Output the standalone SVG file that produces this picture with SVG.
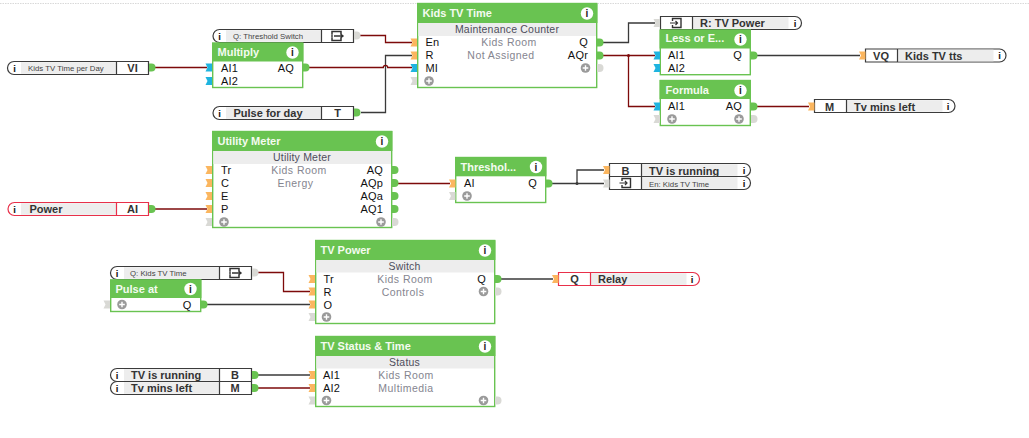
<svg xmlns="http://www.w3.org/2000/svg" width="1029" height="438" viewBox="0 0 1029 438">
<style>
text{font-family:"Liberation Sans",Arial,sans-serif;font-size:11px;fill:#111;letter-spacing:.2px}
.t{font-weight:bold;fill:#f4fbf0;font-size:11px;letter-spacing:0}
.s{fill:#4d4d5c;text-anchor:middle;font-size:10.5px}
.g{fill:#85858f;text-anchor:middle;font-size:10.5px;letter-spacing:.45px}
.r{text-anchor:end}
.box{fill:#fff;stroke:#69c351;stroke-width:1.4}
.hd{fill:#69c351}
.gb{fill:#ededed}
.ref{fill:#fff;stroke:#3b3b3b;stroke-width:1.2}
.red .ref{stroke:#e8304a}
.fl{fill:#ededed}
.dv{stroke:#3b3b3b;stroke-width:1.2;fill:none}
.red .dv{stroke:#e8304a}
.rl{font-weight:bold;fill:#333;font-size:11px;letter-spacing:0}
.rs{fill:#444;font-size:7.8px;letter-spacing:0}
.rc{font-weight:bold;fill:#333;text-anchor:middle;font-size:11px;letter-spacing:0}
.w{fill:none;stroke-width:1.3}
.d{stroke:#3a3a3a}
.m{stroke:#7d0a0a}
.ii{font-weight:bold;font-size:10px;text-anchor:middle;fill:#222;letter-spacing:0}
.i2{font-weight:bold;font-size:9.5px;text-anchor:middle;fill:#111;letter-spacing:0}
</style>
<defs>
<path id="po" d="M-6.500-4H0V4H-6.500L-4.500 0Z" fill="#fbb65f"/>
<path id="pc" d="M-6.500-4H0V4H-6.500L-4.500 0Z" fill="#1eb4df"/>
<path id="pe" d="M-6.500-4H0V4H-6.500L-4.500 0Z" fill="#d9d9d5"/>
<path id="qg" d="M0-4H2.500a4 4 0 0 1 0 8H0Z" fill="#69c351"/>
<path id="qe" d="M0-4H2.500a4 4 0 0 1 0 8H0Z" fill="#d9d9d5"/>
<g id="pl"><circle r="4.800" fill="#9a9a9a"/><path d="M-2.800 0H2.800M0-2.800V2.800" stroke="#fff" stroke-width="1.400"/></g>
<circle id="hi" r="6.200" fill="#fff"/>
<g id="ico"><path d="M-5-1.500V-4.500H4V-2M4 2V4.500H-5V1.500" fill="none" stroke="#333" stroke-width="1.500"/><path d="M-5-1.500V1.500M-3 0H6M3.500-2L6 0L3.500 2" fill="none" stroke="#333" stroke-width="1.400"/></g>
<g id="ici"><path d="M-3.500-2V-4.500H5V4.500H-3.500V2" fill="none" stroke="#333" stroke-width="1.400"/><path d="M-6 0H1.500M-0.500-2L1.500 0L-0.500 2" fill="none" stroke="#333" stroke-width="1.200"/></g>
</defs>
<path d="M0 3.500H1029" stroke="#d9d9d9" stroke-dasharray="1.500 1"/>
<g id="connectors">
<path class="w m" d="M155 67.500H207"/>
<path class="w m" d="M360 35.500H385.500V42.500H412"/>
<path class="w d" d="M361 112.500H385.500V55.500H412"/>
<path class="w m" d="M308 67.500H383.300a2.200 2.200 0 0 1 4.400 0H412"/>
<path class="w d" d="M603 42.500H628.500V23H655"/>
<path class="w m" d="M603 55.500H655M628.500 55.500V106.500H655"/>
<circle cx="628.500" cy="55.500" r="1.500" fill="#7d0a0a"/>
<path class="w d" d="M757 55.500H860"/>
<path class="w m" d="M757 106.500H809"/>
<path class="w m" d="M155 209H207"/>
<path class="w m" d="M397 183.500H450"/>
<path class="w d" d="M552 183.500H604M577 183.500V170H604"/>
<circle cx="577" cy="183.500" r="1.500" fill="#3a3a3a"/>
<path class="w m" d="M258 272.500H283.500V291.500H310"/>
<path class="w d" d="M207 304.500H310"/>
<path class="w d" d="M501 279H553"/>
<path class="w d" d="M258 375H310"/>
<path class="w m" d="M258 388H310"/>
</g>
<g id="kids-tv-time-per-day"><path class="ref" d="M14 61.500H148.500V74.500H14a6.500 6.500 0 0 1 0-13Z"/><rect class="fl" x="21" y="62.200" width="95" height="11.600"/><path class="dv" d="M116.500 61.500V74.500"/><text class="i2" x="14.500" y="71.500">i</text><text class="rs" x="28" y="71">Kids TV Time per Day</text><text class="rc" x="132.500" y="72">VI</text><use href="#qg" x="149" y="67.500"/></g>
<g id="threshold-switch-ref"><path class="ref" d="M219.500 29.500H353.500V42.500H219.500a6.500 6.500 0 0 1 0-13Z"/><rect class="fl" x="226" y="30.200" width="95" height="11.600"/><path class="dv" d="M321.500 29.500V42.500"/><text class="i2" x="219.500" y="39.500">i</text><text class="rs" x="233" y="39">Q: Threshold Switch</text><use href="#ico" x="337" y="36"/><use href="#qe" x="354" y="35.500"/></g>
<g id="multiply"><rect class="box" x="212.700" y="43" width="90" height="44.500"/><rect class="hd" x="212" y="43" width="91.400" height="18.500"/><text class="t" x="217.500" y="56">Multiply</text><use href="#hi" x="292.500" y="52.500"/><text class="ii" x="292.500" y="56">i</text><use href="#pc" x="212" y="67.500"/><use href="#pc" x="212" y="81"/><text x="221" y="72">AI1</text><text x="221" y="85">AI2</text><text class="r" x="294" y="72">AQ</text><use href="#qg" x="303" y="67.500"/></g>
<g id="pulse-for-day"><path class="ref" d="M219.500 106.500H353.500V119.500H219.500a6.500 6.500 0 0 1 0-13Z"/><rect class="fl" x="226" y="107.200" width="95" height="11.600"/><path class="dv" d="M321.500 106.500V119.500"/><text class="i2" x="219.500" y="116.500">i</text><text class="rl" x="233.500" y="117">Pulse for day</text><text class="rc" x="337.500" y="117">T</text><use href="#qg" x="354" y="112.500"/></g>
<g id="kids-tv-time"><rect class="box" x="417.700" y="3.500" width="179" height="84"/><rect class="hd" x="417" y="3.500" width="180.400" height="19.500"/><rect class="gb" x="418.400" y="23" width="177.600" height="13"/><text class="t" x="422.500" y="17">Kids TV Time</text><use href="#hi" x="587" y="13.500"/><text class="ii" x="587" y="17">i</text><text class="s" x="507" y="33">Maintenance Counter</text><text class="g" x="509" y="46">Kids Room</text><text class="g" x="501" y="59">Not Assigned</text><use href="#po" x="417" y="42.500"/><use href="#po" x="417" y="55.500"/><use href="#pc" x="417" y="68"/><use href="#pe" x="417" y="81"/><text x="425.500" y="46">En</text><text x="425.500" y="59">R</text><text x="425.500" y="72">MI</text><use href="#pl" x="429" y="81"/><text class="r" x="588" y="46">Q</text><text class="r" x="588" y="59">AQr</text><use href="#pl" x="585.500" y="68"/><use href="#qg" x="597" y="42.500"/><use href="#qg" x="597" y="55.500"/><use href="#qe" x="597" y="68"/></g>
<g id="tv-power-ref"><path class="ref" d="M660.500 16.500H795a6.500 6.500 0 0 1 0 13H660.500Z"/><rect class="fl" x="692.500" y="17.200" width="96" height="11.600"/><path class="dv" d="M692.500 16.500V29.500"/><use href="#ici" x="676" y="23"/><text class="rl" x="700" y="27">R: TV Power</text><text class="i2" x="795" y="26.500">i</text><use href="#pe" x="660" y="23"/></g>
<g id="less-or-equal"><rect class="box" x="660.300" y="30" width="90" height="44.700"/><rect class="hd" x="659.600" y="30" width="91.400" height="18.500"/><text class="t" x="665.500" y="41.500">Less or E...</text><use href="#hi" x="740.500" y="39.500"/><text class="ii" x="740.500" y="43">i</text><use href="#pc" x="660" y="55.500"/><use href="#pc" x="660" y="68"/><text x="668" y="59">AI1</text><text x="668" y="72">AI2</text><text class="r" x="742" y="59">Q</text><use href="#qg" x="751" y="55.500"/></g>
<g id="formula"><rect class="box" x="660.300" y="80.500" width="90" height="45"/><rect class="hd" x="659.600" y="80" width="91.400" height="19"/><text class="t" x="665.500" y="94">Formula</text><use href="#hi" x="740.500" y="90.500"/><text class="ii" x="740.500" y="94">i</text><use href="#pc" x="660" y="106.500"/><use href="#pe" x="660" y="119"/><text x="668" y="110">AI1</text><use href="#pl" x="672" y="119"/><text class="r" x="742" y="110">AQ</text><use href="#pl" x="739" y="119"/><use href="#qg" x="751" y="106.500"/><use href="#qe" x="751" y="119"/></g>
<g id="kids-tv-tts"><path class="ref" d="M865.500 49H999.500a6.500 6.500 0 0 1 0 13H865.500Z"/><rect class="fl" x="897.500" y="49.700" width="96" height="11.600"/><path class="dv" d="M897.500 49V62"/><text class="rc" x="881" y="59.500">VQ</text><text class="rl" x="905" y="59.500">Kids TV tts</text><text class="i2" x="999.500" y="59">i</text><use href="#po" x="865.500" y="55.500"/></g>
<g id="tv-mins-left-out"><path class="ref" d="M814.500 99.500H948.500a6.500 6.500 0 0 1 0 13H814.500Z"/><rect class="fl" x="846.500" y="100.200" width="96" height="11.600"/><path class="dv" d="M846.500 99.500V112.500"/><text class="rc" x="829.500" y="110.500">M</text><text class="rl" x="854" y="110.500">Tv mins left</text><text class="i2" x="948" y="110">i</text><use href="#po" x="814.500" y="106.500"/></g>
<g id="power" class="red"><path class="ref" d="M14.500 202.500H148.500V215.500H14.500a6.500 6.500 0 0 1 0-13Z"/><rect class="fl" x="21" y="203.200" width="95" height="11.600"/><path class="dv" d="M116.500 202.500V215.500"/><text class="i2" x="14.500" y="212.500">i</text><text class="rl" x="29.500" y="213">Power</text><text class="rc" x="132.500" y="213">AI</text><use href="#qg" x="149" y="209"/></g>
<g id="utility-meter"><rect class="box" x="212.700" y="131.500" width="179" height="96"/><rect class="hd" x="212" y="131" width="180.400" height="20"/><rect class="gb" x="213.400" y="151" width="177.600" height="13"/><text class="t" x="217.500" y="145">Utility Meter</text><use href="#hi" x="382" y="141.500"/><text class="ii" x="382" y="145">i</text><text class="s" x="302" y="161">Utility Meter</text><text class="g" x="299" y="174">Kids Room</text><text class="g" x="295.500" y="187">Energy</text><use href="#po" x="212" y="170"/><use href="#po" x="212" y="183"/><use href="#po" x="212" y="196"/><use href="#po" x="212" y="209"/><use href="#pe" x="212" y="222"/><text x="221" y="174">Tr</text><text x="221" y="187">C</text><text x="221" y="200">E</text><text x="221" y="213">P</text><use href="#pl" x="224" y="222"/><text class="r" x="383" y="174">AQ</text><text class="r" x="383" y="187">AQp</text><text class="r" x="383" y="200">AQa</text><text class="r" x="383" y="213">AQ1</text><use href="#pl" x="381" y="222"/><use href="#qg" x="392" y="170"/><use href="#qg" x="392" y="183"/><use href="#qg" x="392" y="196"/><use href="#qg" x="392" y="209"/><use href="#qe" x="392" y="222"/></g>
<g id="threshold-switch"><rect class="box" x="455.700" y="157.500" width="90" height="45"/><rect class="hd" x="455" y="157.300" width="91.400" height="19"/><text class="t" x="460.500" y="170.500">Threshol...</text><use href="#hi" x="536" y="167"/><text class="ii" x="536" y="170.500">i</text><use href="#po" x="455.500" y="183.500"/><use href="#pe" x="455.500" y="196"/><text x="464" y="187">AI</text><use href="#pl" x="467" y="196"/><text class="r" x="537" y="187">Q</text><use href="#qg" x="546" y="183.500"/></g>
<g id="tv-is-running-out"><path class="ref" d="M609.500 163.500H744a6.500 6.500 0 0 1 0 13H609.500Z"/><rect class="fl" x="641.500" y="164.200" width="96" height="11.600"/><path class="dv" d="M641.500 163.500V176.500"/><text class="rc" x="625.500" y="175">B</text><text class="rl" x="649" y="175">TV is running</text><text class="i2" x="744" y="173.500">i</text><use href="#po" x="609.500" y="170"/></g>
<g id="kids-tv-time-en"><path class="ref" d="M609.500 176.500H744a6.500 6.500 0 0 1 0 13H609.500Z"/><rect class="fl" x="641.500" y="177.200" width="96" height="11.600"/><path class="dv" d="M641.500 176.500V189.500"/><use href="#ici" x="625.500" y="183"/><text class="rs" x="649" y="186.500">En: Kids TV Time</text><text class="i2" x="744" y="186.500">i</text><use href="#pe" x="609.500" y="183.500"/></g>
<g id="kids-tv-time-ref"><path class="ref" d="M117 266.500H251.500V279.500H117a6.500 6.500 0 0 1 0-13Z"/><rect class="fl" x="124" y="267.200" width="95" height="11.600"/><path class="dv" d="M219.500 266.500V279.500"/><text class="i2" x="117" y="276.500">i</text><text class="rs" x="130" y="276">Q: Kids TV Time</text><use href="#ico" x="235" y="273"/><use href="#qe" x="252" y="272.500"/></g>
<g id="pulse-at"><rect class="box" x="110.700" y="280" width="90" height="31.500"/><rect class="hd" x="110" y="279.500" width="91.400" height="18.500"/><text class="t" x="115.500" y="292.500">Pulse at</text><use href="#hi" x="190.500" y="289"/><text class="ii" x="190.500" y="292.500">i</text><use href="#pe" x="110" y="304.500"/><use href="#pl" x="122" y="304.500"/><text class="r" x="191.500" y="308.500">Q</text><use href="#qg" x="201" y="304.500"/></g>
<g id="tv-power"><rect class="box" x="315.700" y="240.500" width="179" height="83"/><rect class="hd" x="315" y="240.300" width="180.400" height="19.700"/><rect class="gb" x="316.400" y="260" width="177.600" height="12.500"/><text class="t" x="320.500" y="254">TV Power</text><use href="#hi" x="485" y="250.500"/><text class="ii" x="485" y="254">i</text><text class="s" x="404.500" y="270">Switch</text><text class="g" x="405" y="283">Kids Room</text><text class="g" x="403" y="296">Controls</text><use href="#po" x="315" y="279"/><use href="#po" x="315" y="291.500"/><use href="#po" x="315" y="304.500"/><use href="#pe" x="315" y="317"/><text x="323.500" y="283">Tr</text><text x="323.500" y="296">R</text><text x="323.500" y="308.500">O</text><use href="#pl" x="326.500" y="317"/><text class="r" x="486" y="283">Q</text><use href="#pl" x="483.500" y="291.500"/><use href="#qg" x="495" y="279"/><use href="#qe" x="495" y="291.500"/></g>
<g id="relay" class="red"><path class="ref" d="M558.500 272.500H693a6.500 6.500 0 0 1 0 13H558.500Z"/><rect class="fl" x="590.500" y="273.200" width="96" height="11.600"/><path class="dv" d="M590.500 272.500V285.500"/><text class="rc" x="574.500" y="283">Q</text><text class="rl" x="598" y="283">Relay</text><text class="i2" x="692" y="282.500">i</text><use href="#po" x="558.500" y="279"/></g>
<g id="tv-is-running-in"><path class="ref" d="M117 368.500H251.500V381.500H117a6.500 6.500 0 0 1 0-13Z"/><rect class="fl" x="124" y="369.200" width="95" height="11.600"/><path class="dv" d="M219.500 368.500V381.500"/><text class="i2" x="117" y="378.500">i</text><text class="rl" x="131" y="379">TV is running</text><text class="rc" x="235" y="379">B</text><use href="#qg" x="252" y="375"/></g>
<g id="tv-mins-left-in"><path class="ref" d="M117 381.500H251.500V394.500H117a6.500 6.500 0 0 1 0-13Z"/><rect class="fl" x="124" y="382.200" width="95" height="11.600"/><path class="dv" d="M219.500 381.500V394.500"/><text class="i2" x="117" y="391.500">i</text><text class="rl" x="131" y="392">Tv mins left</text><text class="rc" x="235" y="392">M</text><use href="#qg" x="252" y="388"/></g>
<g id="tv-status-time"><rect class="box" x="315.700" y="336.500" width="179" height="70"/><rect class="hd" x="315" y="336" width="180.400" height="20"/><rect class="gb" x="316.400" y="356" width="177.600" height="12.500"/><text class="t" x="320.500" y="350">TV Status &amp; Time</text><use href="#hi" x="485" y="346.500"/><text class="ii" x="485" y="350">i</text><text class="s" x="404.500" y="366">Status</text><text class="g" x="406" y="379">Kids Room</text><text class="g" x="406" y="392">Multimedia</text><use href="#po" x="315" y="375"/><use href="#po" x="315" y="388"/><use href="#pe" x="315" y="400.500"/><text x="323" y="379">AI1</text><text x="323" y="392">AI2</text><use href="#pl" x="326.500" y="400.500"/><use href="#pl" x="483.500" y="400.500"/><use href="#qe" x="495" y="400.500"/></g>
</svg>
